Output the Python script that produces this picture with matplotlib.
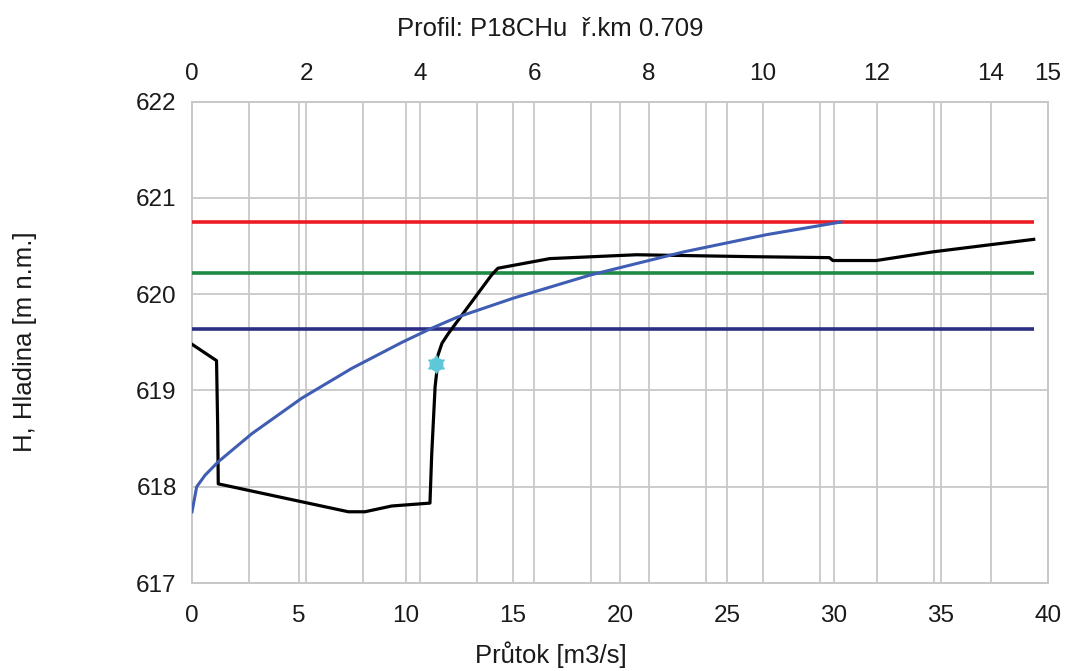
import matplotlib
matplotlib.use("Agg")
import matplotlib.pyplot as plt

plt.rcParams['font.family'] = ['Liberation Sans', 'DejaVu Sans']

# ---- data ----
title = "Profil: P18CHu  ř.km 0.709"
xlabel = "Průtok [m3/s]"
ylabel = "H, Hladina [m n.m.]"

# cross-section profile (top axis: station, m)
station = [0.0, 0.43, 0.45, 0.46, 2.74, 3.03, 3.50, 4.17, 4.20, 4.26, 4.29, 4.30,
           4.38, 4.49, 5.25, 5.36, 6.27, 7.79, 9.83, 11.17, 11.23, 11.99, 12.98, 14.75]
elev = [619.48, 619.31, 618.63, 618.03, 617.74, 617.74, 617.80, 617.83, 618.33,
        619.04, 619.20, 619.35, 619.49, 619.59, 620.20, 620.27, 620.37, 620.41,
        620.39, 620.38, 620.35, 620.35, 620.44, 620.57]

# rating curve (bottom axis: discharge Q)
q_curve = [0.0, 0.22, 0.61, 1.23, 2.79, 5.13, 7.47, 9.81, 11.13, 12.38, 15.03,
           18.62, 22.98, 26.88, 30.32]
h_curve = [617.74, 618.00, 618.12, 618.26, 618.55, 618.92, 619.23, 619.50, 619.64,
           619.76, 619.96, 620.20, 620.44, 620.62, 620.75]

# reference water levels
levels = [620.75, 620.22, 619.64]
level_colors = ['#ed1c24', '#1e8a44', '#2b2e83']

# measured point (station, H)
pt_station = [4.27]
pt_h = [619.27]

bottom_ticks = [0, 5, 10, 15, 20, 25, 30, 35, 40]
top_ticks = list(range(0, 16))
top_labels = ['0', '', '2', '', '4', '', '6', '', '8', '', '10', '', '12', '', '14', '15']
y_ticks = [617, 618, 619, 620, 621, 622]

# ---- figure ----
fig = plt.figure(figsize=(10.76, 6.71), dpi=100)
ax = fig.add_axes([192/1076, 1 - 583/671, (1048-192)/1076, (583-101.7)/671])
ax2 = ax.twiny()

grid_c = '#c8c8c8'
ax.set_xlim(0, 40)
ax.set_ylim(617, 622)
ax2.set_xlim(0, 15)

ax.set_xticks(bottom_ticks)
ax.set_yticks(y_ticks)
ax2.set_xticks(top_ticks)
ax2.set_xticklabels(top_labels)

ax.grid(True, color=grid_c, linewidth=1.3)
ax2.grid(True, axis='x', color=grid_c, linewidth=1.3)
ax2.set_axisbelow(True)

for a in (ax, ax2):
    for s in a.spines.values():
        s.set_color(grid_c)
        s.set_linewidth(1.3)

txt_c = '#1a1a1a'
ax.tick_params(axis='x', length=0, pad=16, labelsize=17.5, colors=txt_c)
ax.tick_params(axis='y', length=0, pad=11, labelsize=17.5, colors=txt_c)
ax2.tick_params(axis='x', length=0, pad=12, labelsize=17.5, colors=txt_c)

# horizontal water levels across the profile width
for lv, c in zip(levels, level_colors):
    ax2.hlines(lv, station[0], station[-1], colors=c, linewidth=2.6, zorder=3)

# profile
ax2.plot(station, elev, color='black', linewidth=2.3, zorder=4)
# rating curve (drawn in bottom-axis coordinates)
ax2.plot(q_curve, h_curve, color='#3f5db3', linewidth=2.2, zorder=5,
         transform=ax.transData)
# measured point
ax2.plot(pt_station, pt_h, linestyle='none', marker='o', markersize=9,
         color='#5ec8d8', markeredgecolor='#5ec8d8', zorder=6)
ax2.plot(pt_station, pt_h, linestyle='none', marker=(6, 1, 0), markersize=13,
         color='#5ec8d8', markeredgecolor='#5ec8d8', zorder=6)

fig.text(550/1076, 1 - 29/671, title, ha='center', va='center', fontsize=18.5,
         color=txt_c)
fig.text(551/1076, 1 - 655/671, xlabel, ha='center', va='center', fontsize=18.5,
         color=txt_c)
fig.text(25/1076, 1 - 342/671, ylabel, ha='center', va='center', fontsize=18.5,
         rotation=90, color=txt_c)

fig.savefig('out.png', dpi=100, facecolor='white')
